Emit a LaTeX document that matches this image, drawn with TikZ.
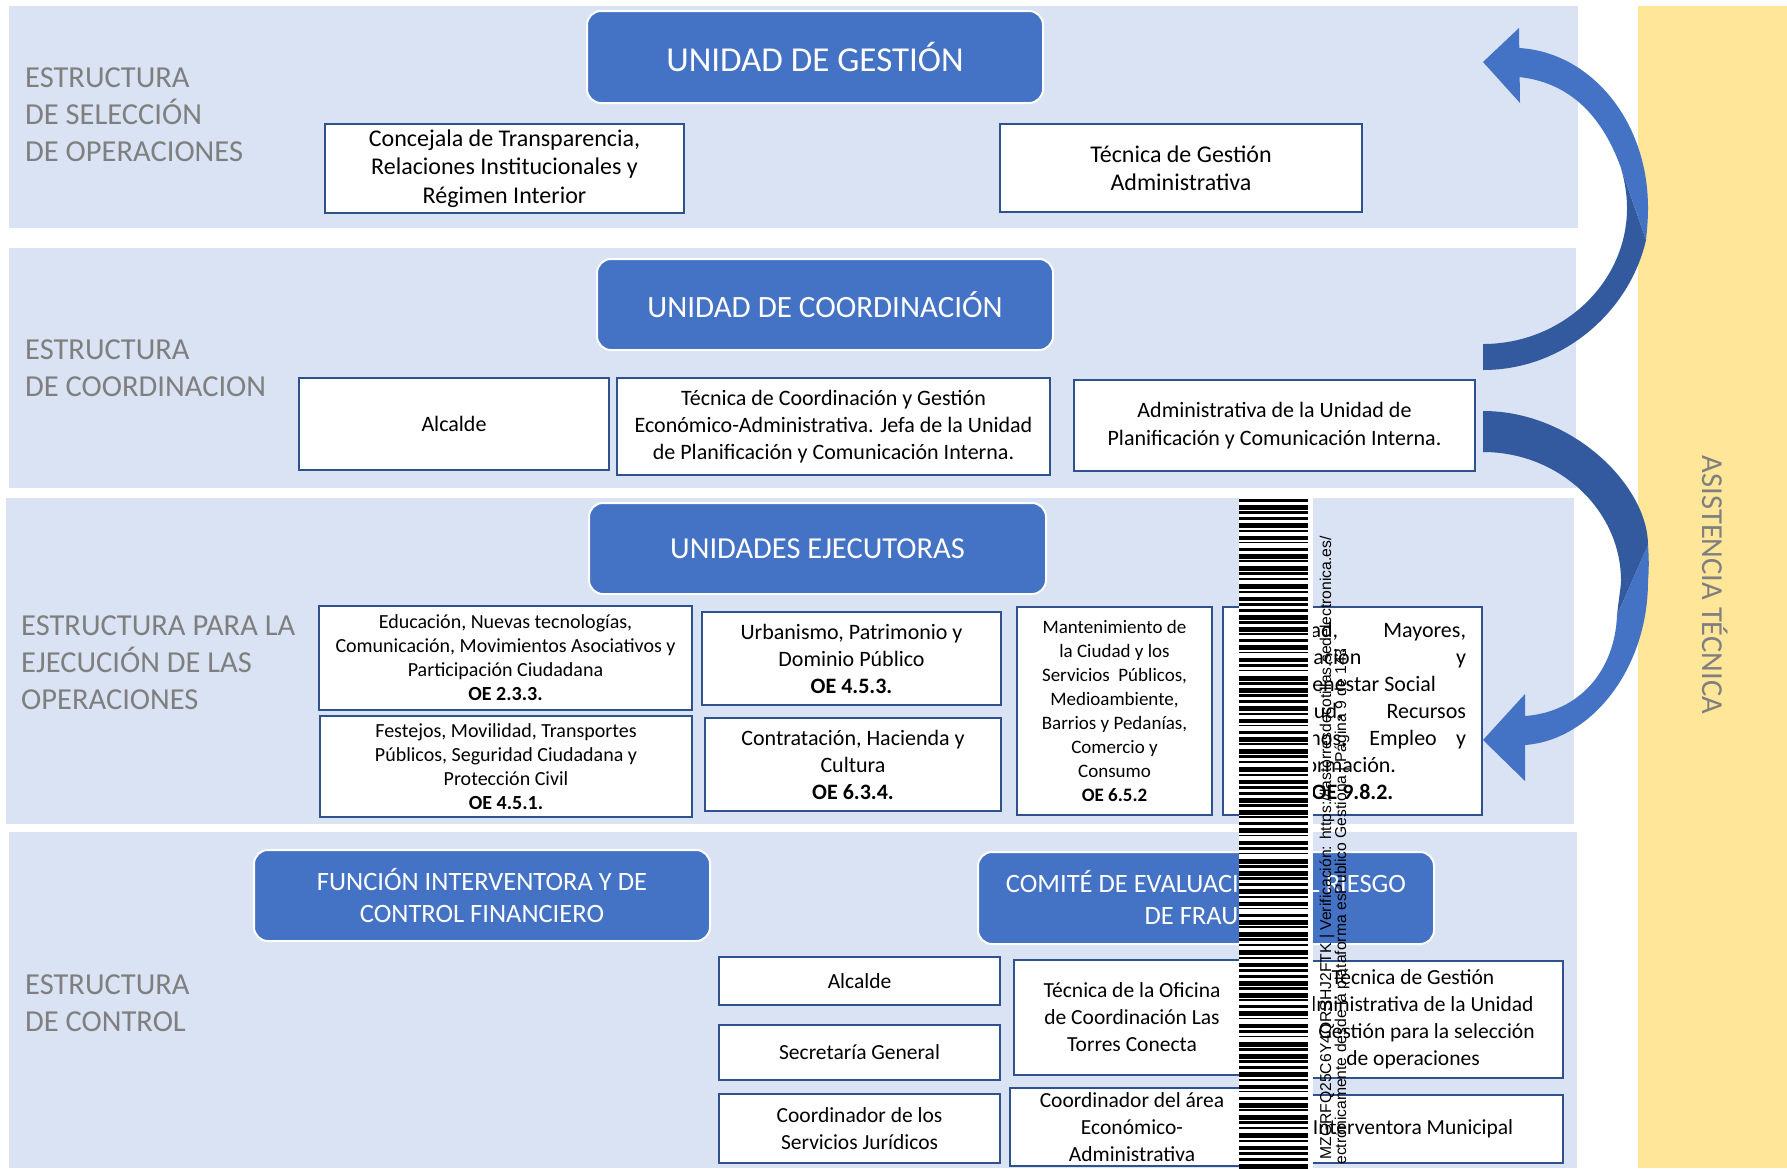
\documentclass[tikz,border=0pt]{standalone}
\usepackage{fontspec}
\setmainfont{Carlito}
\newfontfamily\verifont{Liberation Sans}
\definecolor{bandc}{HTML}{DAE3F3}
\definecolor{hdrc}{HTML}{4472C4}
\definecolor{darkc}{HTML}{335A9E}
\definecolor{boxc}{HTML}{2F528F}
\definecolor{yelc}{HTML}{FFE699}
\definecolor{grayc}{HTML}{7F7F7F}
\begin{document}
\begin{tikzpicture}[x=1pt,y=-1pt,
  band/.style={fill=bandc},
  hdr/.style={fill=hdrc, draw=white, line width=2pt, rounded corners=14pt, text=white, align=center, inner sep=0pt},
  wbox/.style={fill=white, draw=boxc, line width=1.2pt, align=center, inner sep=0pt, text=black},
  lbl/.style={text=grayc, font=\fontsize{30.5}{37}\selectfont, align=left, anchor=west, inner sep=0pt},
  ftop/.style={font=\fontsize{24}{28.5}\selectfont},
  fmid/.style={font=\fontsize{22}{27}\selectfont},
  fsm/.style={font=\fontsize{20}{24}\selectfont},
  fbot/.style={font=\fontsize{21.5}{27}\selectfont},
  verif/.style={rotate=90, anchor=base east, inner sep=0pt, text=black, font=\verifont\fontsize{15.7}{16}\selectfont}
]
\useasboundingbox (0,0) rectangle (1787,1168);
\fill[white] (0,0) rectangle (1787,1168);
\begin{scope}
\clip (0,0) rectangle (1787,1168);

% bands
\fill[band] (9,6) rectangle (1578,228);
\fill[band] (9,248) rectangle (1576,488);
\fill[band] (6,498) rectangle (1574,824);
\fill[band] (9,832) rectangle (1577,1168);
\fill[yelc] (1638,6) rectangle (1787,1168);

% left labels
\node[lbl] (L1) at (25,115) {ESTRUCTURA\\DE SELECCIÓN\\DE OPERACIONES};
\node[lbl] (L2) at (25,368) {ESTRUCTURA\\DE COORDINACION};
\node[lbl] (L3) at (21,663) {ESTRUCTURA PARA LA\\EJECUCIÓN DE LAS\\OPERACIONES};
\node[lbl] (L4) at (25,1003) {ESTRUCTURA\\DE CONTROL};
\node[text=grayc, font=\fontsize{30.5}{37}\selectfont, rotate=-90, inner sep=0pt] (AT) at (1715,585) {ASISTENCIA TÉCNICA};

% band 1
\node[hdr, minimum width=456pt, minimum height=92pt, font=\fontsize{35}{42}\selectfont] (g1) at (815,57) {UNIDAD DE GESTIÓN};
\node[wbox, ftop, minimum width=359pt, minimum height=89pt] (c1) at (504.5,168.5) {Concejala de Transparencia,\\Relaciones Institucionales y\\Régimen Interior};
\node[wbox, ftop, minimum width=362pt, minimum height=88pt] (c2) at (1181,168) {Técnica de Gestión\\Administrativa};

% band 2
\node[hdr, minimum width=456pt, minimum height=91pt, font=\fontsize{31}{37}\selectfont] (g2) at (825,304.5) {UNIDAD DE COORDINACIÓN};
\node[wbox, fmid, minimum width=310pt, minimum height=92pt] (a1) at (454,424) {Alcalde};
\node[wbox, fmid, minimum width=433pt, minimum height=97pt] (a2) at (833.5,426.5) {Técnica de Coordinación y Gestión\\Económico-Administrativa. Jefa de la Unidad\\de Planificación y Comunicación Interna.};
\node[wbox, font=\fontsize{22}{28.5}\selectfont, minimum width=401pt, minimum height=91pt] (a3) at (1274.5,425.5) {Administrativa de la Unidad de\\Planificación y Comunicación Interna.};

% band 3
\node[hdr, minimum width=457pt, minimum height=91pt, font=\fontsize{30.5}{36}\selectfont] (g3) at (817.5,548.5) {UNIDADES EJECUTORAS};
\node[wbox, fsm, minimum width=373pt, minimum height=104pt] (e1) at (505.5,658) {Educación, Nuevas tecnologías,\\Comunicación, Movimientos Asociativos y\\Participación Ciudadana\\\textbf{OE 2.3.3.}};
\node[wbox, fsm, minimum width=372pt, minimum height=101pt] (e2) at (506,766.5) {Festejos, Movilidad, Transportes\\Públicos, Seguridad Ciudadana y\\Protección Civil\\\textbf{OE 4.5.1.}};
\node[wbox, fmid, minimum width=299pt, minimum height=93pt] (e3) at (851.5,658.5) {Urbanismo, Patrimonio y\\Dominio Público\\\textbf{OE 4.5.3.}};
\node[wbox, fmid, minimum width=296pt, minimum height=93pt] (e4) at (853,764.5) {Contratación, Hacienda y\\Cultura\\\textbf{OE 6.3.4.}};
\node[wbox, font=\fontsize{19}{24}\selectfont, minimum width=195pt, minimum height=208pt] (e5) at (1114.5,711) {Mantenimiento de\\la Ciudad y los\\Servicios\ \ Públicos,\\Medioambiente,\\Barrios y Pedanías,\\Comercio y\\Consumo\\\textbf{OE 6.5.2}};
\node[wbox, minimum width=259pt, minimum height=208pt] (e6) at (1352.5,711) {};
\node[fmid, align=center, inner sep=0pt] (e6t) at (1361,711) {\makebox[210pt][s]{Igualdad, Mayores,}\\\makebox[210pt][s]{Inmigración y}\\\makebox[210pt][r]{Bienestar Social\hspace{30pt}}\\\makebox[210pt][s]{Juventud, Recursos}\\\makebox[210pt][s]{Humanos, Empleo y}\\\makebox[210pt][r]{Formación.\hspace{70pt}}\\\hspace{-17pt}\textbf{OE 9.8.2.}};

% band 4
\node[hdr, minimum width=456pt, minimum height=91pt, font=\fontsize{26.5}{32}\selectfont] (g4) at (482,895.5) {FUNCIÓN INTERVENTORA Y DE\\CONTROL FINANCIERO};
\node[hdr, minimum width=456pt, minimum height=92pt, font=\fontsize{26.5}{32}\selectfont] (g5) at (1206,898) {COMITÉ DE EVALUACIÓN DEL RIESGO\\DE FRAUDE};
\node[wbox, fbot, minimum width=281pt, minimum height=48pt] (f1) at (859.5,981) {Alcalde};
\node[wbox, fbot, minimum width=281pt, minimum height=55pt] (f2) at (859.5,1052.5) {Secretaría General};
\node[wbox, fbot, minimum width=281pt, minimum height=69pt] (f3) at (859.5,1128.5) {Coordinador de los\\Servicios Jurídicos};
\node[wbox, fbot, minimum width=236pt, minimum height=115pt] (f4) at (1132,1017.5) {Técnica de la Oficina\\de Coordinación Las\\Torres Conecta};
\node[wbox, fbot, minimum width=244pt, minimum height=78pt] (f5) at (1132,1127) {Coordinador del área\\Económico-\\Administrativa};
\node[wbox, fbot, minimum width=300pt, minimum height=117pt] (f6) at (1413,1019.5) {Técnica de Gestión\\Administrativa de la Unidad\\de Gestión para la selección\\de operaciones};
\node[wbox, fbot, minimum width=300pt, minimum height=68pt] (f7) at (1413,1129) {Interventora Municipal};

% curved arrow 1 (up): back face (dark) then front face (light)
\fill[darkc] (1646,240) .. controls (1630,310) and (1565,370) .. (1483,370) -- (1483,344)
   .. controls (1562,344) and (1627,283) .. (1627,208) .. controls (1627,195) and (1625,182) .. (1621,168) -- cycle;
\fill[hdrc] (1519,48) .. controls (1590,52) and (1648,120) .. (1648,208) .. controls (1648,220) and (1647,230) .. (1646,240)
   -- (1621,168) .. controls (1600,110) and (1565,82) .. (1519,77) -- cycle;
\fill[hdrc] (1519,28) -- (1483,62) -- (1520,103) -- cycle;

% curved arrow 2 (down)
\fill[darkc] (1483,411) .. controls (1574,411) and (1648,487) .. (1648,545) -- (1617,615)
   .. controls (1620,590) and (1621,585) .. (1621,581) .. controls (1621,510) and (1559,452) .. (1483,452) -- cycle;
\fill[hdrc] (1648,545) .. controls (1649,558) and (1649,570) .. (1648,581) .. controls (1648,668) and (1592,740) .. (1525,745)
   -- (1525,716) .. controls (1580,712) and (1615,670) .. (1617,615) -- cycle;
\fill[hdrc] (1525,694) -- (1483,740) -- (1525,781) -- cycle;

% barcode
\fill[white] (1239,497) rectangle (1313,1168);
\foreach \i in {0,...,109} {
  \pgfmathsetmacro\bw{ifthenelse(mod(\i*7+3,5)<2,4.6,ifthenelse(mod(\i*11+1,3)==0,1.6,2.9))}
  \fill[black] (1239,{499+\i*6.1}) rectangle (1308,{499+\i*6.1+\bw});
}
\node[verif] (v1) at (1331,536) {MZGRFQ25C6Y4QRSHJ2FTK | Verificación: https://lastorresdecotillas.sedelectronica.es/};
\node[verif] (v2) at (1346,648) {ectrónicamente desde la plataforma esPublico Gestiona | Página 9 de 143};
\end{scope}
\end{tikzpicture}
\end{document}
